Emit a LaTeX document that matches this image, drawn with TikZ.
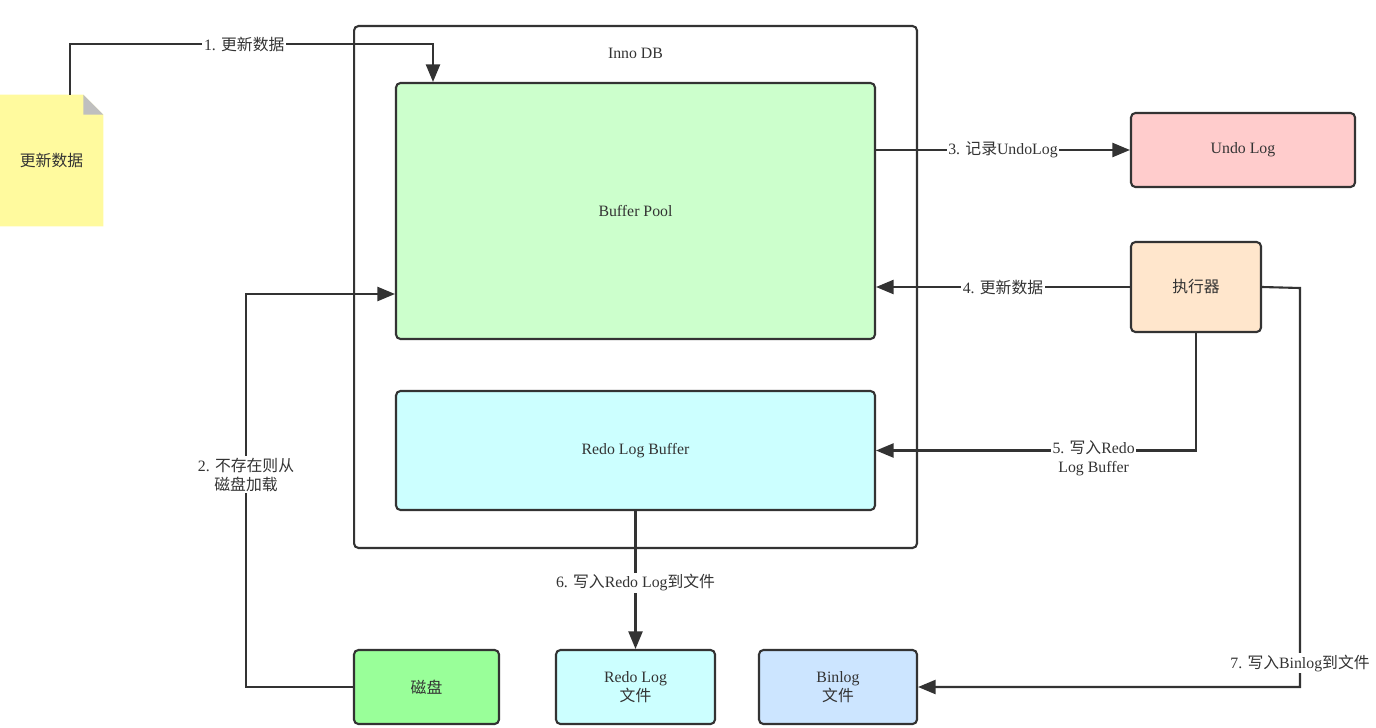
\documentclass[tikz,border=0pt]{standalone}
\usepackage{fontspec}
\setmainfont{Liberation Serif}
\newfontfamily\zhfont{Noto Sans CJK SC}
\newcommand{\zh}[1]{{\zhfont #1}}
\usetikzlibrary{arrows.meta}
\definecolor{linea}{HTML}{333333}
\definecolor{verde}{HTML}{CCFFCC}
\definecolor{ciano}{HTML}{CCFFFF}
\definecolor{rosa}{HTML}{FFCCCC}
\definecolor{pesca}{HTML}{FFE6CC}
\definecolor{disco}{HTML}{99FF99}
\definecolor{azzurro}{HTML}{CCE5FF}
\definecolor{giallo}{HTML}{FFFA9E}
\begin{document}
\begin{tikzpicture}[x=0.02cm,y=-0.02cm,
        font=\fontsize{9}{11}\selectfont,text=linea,
        box/.style={draw=linea,line width=1.2pt,rounded corners=2.5pt,align=center,inner sep=0pt},
        arr/.style={->,>={Triangle[length=10pt,width=8pt]},draw=linea,line width=1.2pt},
        lbl/.style={fill=white,inner sep=1pt,align=center}]
        \useasboundingbox (0,0) rectangle (1376,727);

        %%%%%%%%%% Nodi %%%%%%%%%%
        \node[box,minimum width=11.26cm,minimum height=10.44cm] (inno) at (635.5,287) {};
        \node (innolbl) at ([yshift=-0.56cm]inno.north) {Inno DB};
        \node[box,fill=verde,minimum width=9.58cm,minimum height=5.12cm] (bp) at (635.5,211) {Buffer Pool};
        \node[box,fill=ciano,minimum width=9.58cm,minimum height=2.38cm] (rlb) at (635.5,450.5) {Redo Log Buffer};
        \node[box,fill=rosa,minimum width=4.48cm,minimum height=1.48cm] (undo) at (1243,150) {Undo Log};
        \node[box,fill=pesca,minimum width=2.6cm,minimum height=1.8cm] (exec) at (1196,287) {\zh{执行器}};
        \node[box,fill=disco,minimum width=2.9cm,minimum height=1.48cm] (disk) at (426.5,687) {\zh{磁盘}};
        \node[box,fill=ciano,minimum width=3.18cm,minimum height=1.48cm] (rlf) at (635.5,687) {Redo Log\\\zh{文件}};
        \node[box,fill=azzurro,minimum width=3.16cm,minimum height=1.48cm] (bin) at (838,687) {Binlog\\\zh{文件}};

        % foglio con angolo piegato
        \node[minimum width=2.06cm,minimum height=2.62cm,inner sep=0pt] (doc) at (51.5,160.5) {};
        \fill[giallo] (doc.south west) -- (doc.north west) -- ([xshift=-0.4cm]doc.north east)
            -- ([yshift=-0.4cm]doc.north east) -- (doc.south east) -- cycle;
        \fill[black!25] ([xshift=-0.4cm]doc.north east) -- ([yshift=-0.4cm]doc.north east)
            -- ([xshift=-0.4cm,yshift=-0.4cm]doc.north east) -- cycle;
        \node at (doc) {\zh{更新数据}};

        \coordinate (c1) at (433,44);
        \coordinate (c2) at (246,294);
        \coordinate (c7) at (1300,288);

        %%%%%%%%% Frecce %%%%%%%%%
        \draw[arr] ([xshift=0.37cm]doc.north) |- node[lbl,pos=0.74]{1. \zh{更新数据}} (c1) -- (c1 |- bp.north);
        \draw[arr] (disk.west) -| node[lbl,pos=0.77]{2. \zh{不存在则从}\\\zh{磁盘加载}} (c2) -- (c2 -| bp.west);
        \draw[arr] (undo.west -| bp.east) -- node[lbl]{3. \zh{记录}UndoLog} (undo.west);
        \draw[arr] (exec.west) -- node[lbl]{4. \zh{更新数据}} (exec.west -| bp.east);
        \draw[arr] (exec.south) |- node[lbl,pos=0.66,yshift=-0.15cm]{5. \zh{写入}Redo\\Log Buffer} (rlb.east);
        \draw[arr] (rlb.south) -- node[lbl,pos=0.52]{6. \zh{写入}Redo Log\zh{到文件}} (rlf.north);
        \draw[arr] (exec.east) -- (c7) |- node[lbl,pos=0.47]{7. \zh{写入}Binlog\zh{到文件}} (bin.east);
    \end{tikzpicture}
\end{document}
